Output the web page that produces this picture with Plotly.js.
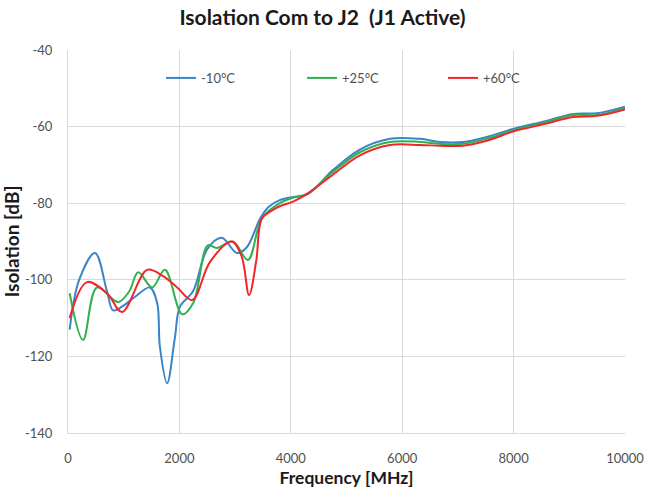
<!DOCTYPE html>
<html><head><meta charset="utf-8">
<script src="https://cdn.plot.ly/plotly-3.0.1.min.js"></script>
<style>html,body{margin:0;padding:0;background:#fff}#chart{width:645px;height:494px}</style>
</head><body><div id="chart"></div>
<script>
const seriesNames = ['-10°C', '+25°C', '+60°C'];
const freqM10 = [30, 200, 485, 700, 810, 970, 1200, 1470, 1600, 1650, 1780, 1920, 2010, 2245, 2500, 2760, 3030, 3210, 3450, 3600, 3800, 4050, 4300, 4760, 5240, 5780, 6320, 6680, 7090, 7520, 7990, 8590, 9070, 9500, 10000];
const isoM10 = [-113, -100, -93, -103, -108, -107, -104.5, -102, -106, -117.5, -127, -115, -107, -103, -92, -89, -93, -91.5, -84, -81, -79.2, -78.4, -77.7, -71.3, -66, -63.2, -63.2, -64, -64, -62.7, -60.6, -58.5, -56.7, -56.5, -54.8];
const freqP25 = [30, 270, 520, 900, 1100, 1260, 1510, 1740, 2050, 2250, 2510, 2670, 2960, 3230, 3480, 3800, 4050, 4300, 4760, 5240, 5780, 6320, 6680, 7090, 7520, 7990, 8590, 9070, 9500, 10000];
const isoP25 = [-103.5, -115.7, -102, -105.8, -103, -98, -102, -97.4, -109, -106, -91, -91.7, -90, -94.8, -84, -80, -78.5, -77.5, -71.8, -66.7, -64, -64, -64.5, -64.5, -63.2, -61, -58.8, -57, -57, -55.2];
const freqP60 = [30, 340, 700, 970, 1420, 1700, 1960, 2230, 2550, 2940, 3120, 3250, 3380, 3480, 3650, 3800, 4050, 4300, 4760, 5240, 5780, 6320, 6680, 7090, 7520, 7990, 8590, 9070, 9500, 10000];
const isoP60 = [-110, -100.6, -103.5, -108.4, -97.4, -99, -102, -105.3, -95.3, -90, -94, -104, -95, -84, -82, -80.8, -79.5, -77.5, -72.5, -67.5, -64.8, -64.8, -65, -65, -63.7, -61.3, -59.2, -57.5, -57.2, -55.5];
const yTicks = [-40, -60, -80, -100, -120, -140];
const xTicks = [0, 2000, 4000, 6000, 8000, 10000];

const colors = ['#3a84c9', '#2fb14f', '#f2262a'];
const xs = [freqM10, freqP25, freqP60];
const ys = [isoM10, isoP25, isoP60];
const traces = seriesNames.map((n, i) => ({
  x: xs[i], y: ys[i], name: n, type: 'scatter', mode: 'lines',
  line: {color: colors[i], width: 2, shape: 'spline', smoothing: 1}
}));
const font = 'Lato, Open Sans, sans-serif';
const layout = {
  width: 645, height: 494,
  margin: {l: 68, r: 20, t: 50, b: 61},
  paper_bgcolor: '#fff', plot_bgcolor: '#fff',
  title: {text: '<b>Isolation Com to J2  (J1 Active)</b>', x: 0.5, xanchor: 'center', y: 0.965, yanchor: 'middle',
    font: {family: font, size: 21, color: '#1a1a1a'}},
  font: {family: font, color: '#505050', size: 13},
  xaxis: {range: [0, 10000], tickvals: xTicks, ticktext: xTicks.map(String), showgrid: true, gridcolor: '#d9d9d9', gridwidth: 1,
    zeroline: false, showline: true, linecolor: '#d9d9d9', ticks: '', ticklabelstandoff: 13, tickfont: {size: 13, color: '#505050'},
    title: {text: '<b>Frequency [MHz]</b>', font: {size: 17.5, color: '#1a1a1a'}, standoff: 7}},
  yaxis: {range: [-140, -40], tickvals: yTicks, ticktext: yTicks.map(String), showgrid: true, gridcolor: '#d9d9d9', gridwidth: 1,
    zeroline: false, showline: true, linecolor: '#d9d9d9', ticks: '', ticklabelstandoff: 12, tickfont: {size: 13, color: '#505050'},
    title: {text: '<b>Isolation [dB]</b>', font: {size: 19, color: '#1a1a1a'}, standoff: 4}},
  legend: {orientation: 'h', x: 0.167, xanchor: 'left', y: 0.927, yanchor: 'middle', bgcolor: 'rgba(0,0,0,0)',
    entrywidth: 96, entrywidthmode: 'pixels', itemwidth: 30, font: {size: 13, color: '#505050'}},
  showlegend: true
};
Plotly.newPlot('chart', traces, layout, {displayModeBar: false, staticPlot: true});
</script></body></html>
